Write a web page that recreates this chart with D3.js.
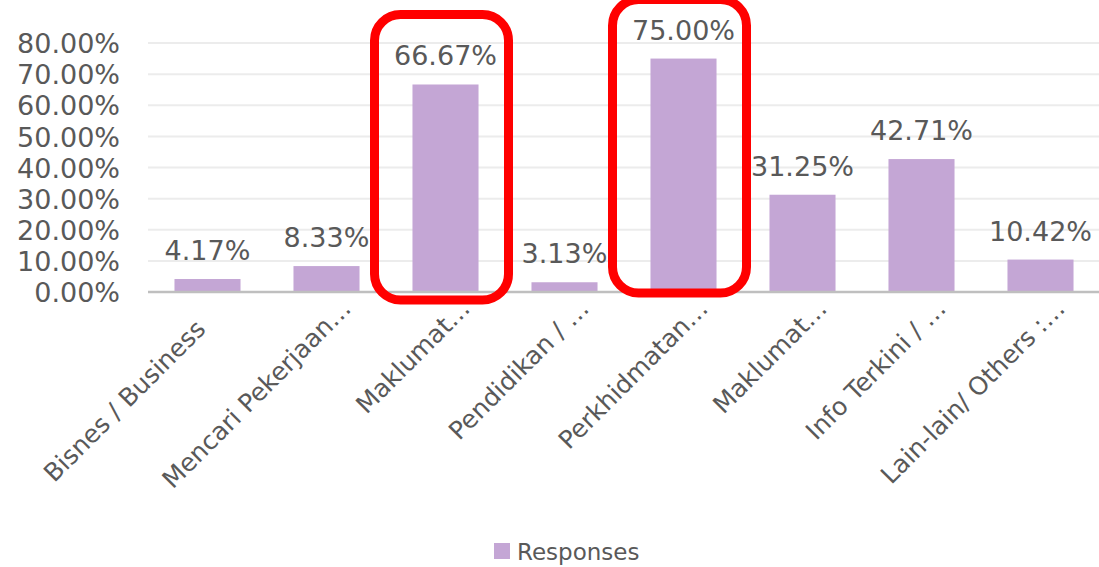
<!DOCTYPE html>
<html lang="en">

<head>
  <meta charset="UTF-8">
  <title>Responses</title>
  <script src="https://d3js.org/d3.v7.min.js"></script>
  <style>
    body {
      margin: 0;
      padding: 0;
      background-color: #ffffff;
    }

    svg text {
      font-family: "DejaVu Sans", sans-serif;
      fill: #595959;
    }

    .grid line {
      stroke: #ececec;
      stroke-width: 2;
    }

    .bar {
      fill: #c4a6d5;
    }

    .highlight {
      fill: none;
      stroke: #ff0000;
      stroke-width: 9;
    }
  </style>
</head>

<body>
  <div id="chart"></div>
  <script>
    const categories = [
      "Bisnes / Business",
      "Mencari Pekerjaan…",
      "Maklumat…",
      "Pendidikan / …",
      "Perkhidmatan…",
      "Maklumat…",
      "Info Terkini / …",
      "Lain-lain/ Others :…"
    ];
    const responses = [4.17, 8.33, 66.67, 3.13, 75.00, 31.25, 42.71, 10.42];
    const yTicks = [0, 10, 20, 30, 40, 50, 60, 70, 80];
    // bars circled in red in the original (hand drawn, so the padding differs)
    const highlighted = [2, 4];
    const highlightPad = [{ top: 70, bottom: 8 }, { top: 59, bottom: 1 }];

    const width = 1099, height = 567;
    const plot = { left: 148, right: 1100, top: 43, bottom: 292 };

    const svg = d3.select("#chart")
      .append("svg")
      .attr("width", width)
      .attr("height", height);

    const x = d3.scaleBand()
      .domain(d3.range(categories.length))
      .range([plot.left, plot.right])
      .paddingInner(0.445)
      .paddingOuter(0.2225);

    const y = d3.scaleLinear()
      .domain([0, 80])
      .range([plot.bottom, plot.top]);

    const pct = d => d3.format(".2f")(d) + "%";

    // gridlines
    svg.append("g")
      .attr("class", "grid")
      .selectAll("line")
      .data(yTicks.slice(1))
      .enter()
      .append("line")
      .attr("x1", plot.left)
      .attr("x2", plot.right)
      .attr("y1", d => y(d))
      .attr("y2", d => y(d));

    // y axis labels
    svg.append("g")
      .attr("transform", "translate(120,0)")
      .call(d3.axisLeft(y).tickValues(yTicks).tickSize(0).tickPadding(0).tickFormat(pct))
      .call(g => g.select(".domain").remove())
      .selectAll("text")
      .attr("dy", "0.36em")
      .style("font-size", "27px");

    // bars
    svg.selectAll("rect.bar")
      .data(responses)
      .enter()
      .append("rect")
      .attr("class", "bar")
      .attr("x", (d, i) => x(i))
      .attr("y", d => y(d))
      .attr("width", x.bandwidth())
      .attr("height", d => y(0) - y(d));

    // x axis, labels at -45deg; truncated ones end at the tick, full ones are centred lower
    svg.append("g")
      .attr("transform", `translate(0, ${plot.bottom})`)
      .call(d3.axisBottom(x).tickSize(0).tickFormat(i => categories[i]))
      .call(g => g.select(".domain")
        .attr("stroke", "#bfbfbf")
        .attr("stroke-width", 2.5)
        .attr("d", `M${plot.left},0H${plot.right}`))
      .selectAll("text")
      .style("font-size", "25px")
      .attr("y", 0)
      .attr("dy", 0)
      .each(function (i) {
        const truncated = categories[i].endsWith("…");
        d3.select(this)
          .style("text-anchor", truncated ? "end" : "middle")
          .attr("transform", truncated ? "translate(26,18) rotate(-45)" : "translate(-77,115) rotate(-45)");
      });

    // value labels
    svg.selectAll("text.value-label")
      .data(responses)
      .enter()
      .append("text")
      .attr("class", "value-label")
      .attr("x", (d, i) => x(i) + x.bandwidth() / 2)
      .attr("y", d => y(d) - 19)
      .attr("text-anchor", "middle")
      .style("font-size", "27px")
      .text(pct);

    // red highlight boxes
    svg.selectAll("rect.highlight")
      .data(highlighted)
      .enter()
      .append("rect")
      .attr("class", "highlight")
      .attr("x", i => x(i) + x.bandwidth() / 2 - 71)
      .attr("y", (i, k) => y(responses[i]) - highlightPad[k].top)
      .attr("width", 134)
      .attr("height", (i, k) => y(0) - y(responses[i]) + highlightPad[k].top + highlightPad[k].bottom)
      .attr("rx", 26);

    // legend
    const legend = svg.append("g")
      .attr("transform", "translate(494, 543)");

    legend.append("rect")
      .attr("width", 16)
      .attr("height", 16)
      .attr("fill", "#c4a6d5");

    legend.append("text")
      .attr("x", 23)
      .attr("y", 17)
      .style("font-size", "23px")
      .text("Responses");
  </script>
</body>

</html>
